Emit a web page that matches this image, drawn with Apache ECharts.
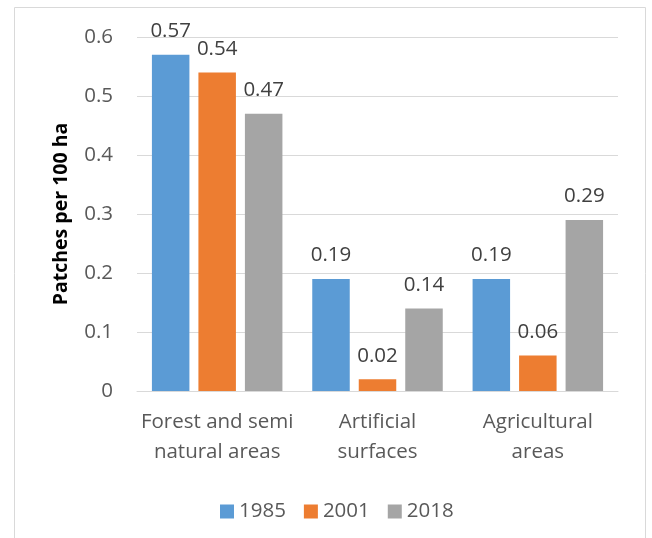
<!DOCTYPE html>
<html><head><meta charset="utf-8">
<script src="https://cdn.jsdelivr.net/npm/echarts@6/dist/echarts.min.js"></script>
<style>html,body{margin:0;padding:0;background:#fff}#c{width:652px;height:538px}</style>
</head><body><div id="c"></div>
<script>
var categories = ['Forest and semi\nnatural areas', 'Artificial\nsurfaces', 'Agricultural\nareas'];
var years = ['1985', '2001', '2018'];
var v1985 = [0.57, 0.19, 0.19];
var v2001 = [0.54, 0.02, 0.06];
var v2018 = [0.47, 0.14, 0.29];
var yTicks = [0, 0.1, 0.2, 0.3, 0.4, 0.5, 0.6];
var colors = ['#5B9BD5', '#ED7D31', '#A5A5A5'];
var seriesValues = [v1985, v2001, v2018];
var FONT = 'Open Sans';
var FS = 20.5;
var chart = echarts.init(document.getElementById('c'), null, {renderer: 'canvas'});
chart.setOption({
  animation: false,
  textStyle: {fontFamily: FONT},
  graphic: [{type: 'rect', shape: {x: 14.5, y: 7.5, width: 631, height: 540}, style: {fill: 'none', stroke: '#D9D9D9', lineWidth: 1}, silent: true}],
  grid: {left: 137, right: 34, top: 37, bottom: 147},
  legend: {
    data: years, left: 215, top: 496, itemWidth: 14, itemHeight: 14, itemGap: 18,
    icon: 'rect', textStyle: {fontFamily: FONT, fontSize: FS, color: '#595959'}
  },
  xAxis: {
    type: 'category', data: categories,
    axisLine: {show: true, lineStyle: {color: '#D9D9D9', width: 1}},
    axisTick: {show: false},
    axisLabel: {fontFamily: FONT, fontSize: FS, color: '#595959', lineHeight: 30, margin: 16, interval: 0}
  },
  yAxis: {
    type: 'value', min: yTicks[0], max: yTicks[yTicks.length - 1], interval: 0.1,
    name: 'Patches per 100 ha', nameLocation: 'middle', nameGap: 66, nameRotate: 90,
    nameTextStyle: {fontFamily: FONT, fontSize: 19.5, fontWeight: 'bold', color: '#000'},
    axisLine: {show: false}, axisTick: {show: false},
    splitLine: {lineStyle: {color: '#D9D9D9', width: 1}},
    axisLabel: {fontFamily: FONT, fontSize: FS, color: '#595959', margin: 24,
      formatter: function (v) { return v === 0 ? '0' : String(Math.round(v * 10) / 10); }}
  },
  series: years.map(function (y, i) {
    return {
      name: y, type: 'bar', data: seriesValues[i], barWidth: 37.5, barGap: '24%',
      itemStyle: {color: colors[i]},
      label: {show: true, position: 'top', distance: 13, fontFamily: FONT, fontSize: FS, color: '#404040',
        formatter: function (p) { return p.value.toFixed(2); }}
    };
  })
});
</script></body></html>
